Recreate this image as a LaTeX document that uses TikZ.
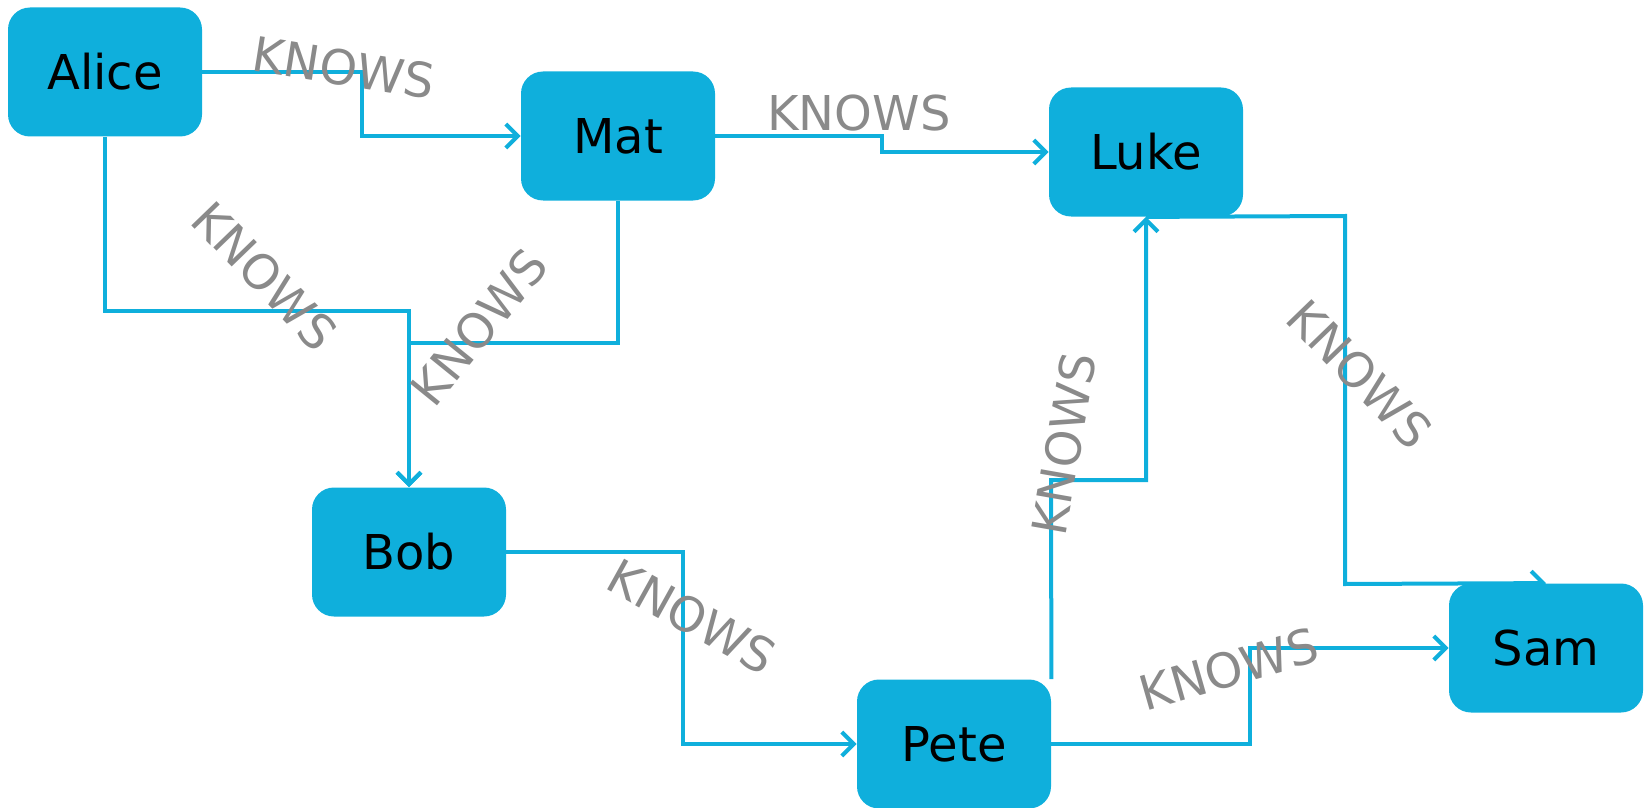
\documentclass[tikz,border=0pt]{standalone}
\usepackage{fontspec}
\setmainfont{DejaVu Sans}
\usetikzlibrary{arrows.meta,backgrounds}

\definecolor{nodeblue}{HTML}{0FAFDC}
\definecolor{relgray}{HTML}{8A8A8A}

\tikzset{
	person/.style	= {rectangle, rounded corners=11pt, fill=nodeblue, inner sep=0pt,
			   minimum width=97pt, minimum height=64.5pt, font=\fontsize{24}{28}\selectfont},
	knows/.style	= {draw=nodeblue, line width=2pt, -{Straight Barb[length=6pt,width=12pt]}},
	rel/.style	= {text=relgray, inner sep=0pt, font=\fontsize{24}{28}\selectfont}
}

\begin{document}
\begin{tikzpicture}[x=0.5pt, y=-0.5pt]
	\useasboundingbox (0,0) rectangle (1644,808);
	\node (Alice) at ( 105,  72)	[person]	{Alice};
	\node (Mat)   at ( 618, 136)	[person]	{Mat};
	\node (Luke)  at (1146, 152)	[person]	{Luke};
	\node (Bob)   at ( 409, 552)	[person]	{Bob};
	\node (Pete)  at ( 954, 744)	[person]	{Pete};
	\node (Sam)   at (1546, 648)	[person]	{Sam};
	\begin{scope}[on background layer]
		\draw[knows] (Alice.east) -- (362, 72) -- (362, 136) -- (Mat.west);
		\draw[knows] (Mat.east) -- (882, 136) -- (882, 152) -- (Luke.west);
		\draw[knows] (Alice.south) -- (105, 311) -- (409, 311) -- (Bob.north);
		\draw[knows] (Mat.south) -- (618, 343) -- (409, 343) -- (Bob.north);
		\draw[knows] (Bob.east) -- (683, 552) -- (683, 744) -- (Pete.west);
		\draw[knows] (Pete.north east) -- (1051, 480) -- (1146, 480) -- (Luke.south);
		\draw[knows] (Luke.south) -- (1345, 216) -- (1345, 584) -- (Sam.north);
		\draw[knows] (Pete.east) -- (1250, 744) -- (1250, 648) -- (Sam.west);
	\end{scope}
	% relationship labels
	\node (kAM) at ( 344,  68)	[rel, rotate=-9]	{KNOWS};
	\node (kML) at ( 859, 113)	[rel]			{KNOWS};
	\node (kAB) at ( 265, 276)	[rel, rotate=-46]	{KNOWS};
	\node (kMB) at ( 479, 327)	[rel, rotate=51]	{KNOWS};
	\node (kBP) at ( 692, 617)	[rel, rotate=-29]	{KNOWS};
	\node (kPL) at (1064, 444)	[rel, rotate=80]	{KNOWS};
	\node (kLS) at (1360, 374)	[rel, rotate=-46]	{KNOWS};
	\node (kPS) at (1229, 669)	[rel, rotate=16]	{KNOWS};
\end{tikzpicture}
\end{document}
